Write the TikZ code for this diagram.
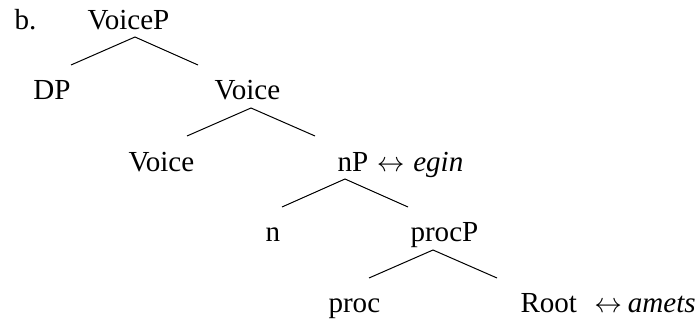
\documentclass[tikz,border=0pt]{standalone}
\usepackage{fontspec}
\setmainfont{Liberation Serif}
\begin{document}
\begin{tikzpicture}[x=0.75pt,y=-0.75pt,line width=0.75pt,
		lbl/.style={anchor=base west, inner sep=0pt, font=\fontsize{21.8}{26}\selectfont}]
		\useasboundingbox (0,0) rectangle (695,320);
		\node (ex) [lbl] at (14,30) {b.};
		\node (vp) [lbl] at (87,30) {VoiceP};
		\node (dp) [lbl] at (33,100) {DP};
		\node (vbar) [lbl] at (214,100) {Voice};
		\node (v) [lbl] at (128,172) {Voice};
		\node (np) [lbl] at (337,172) {nP\hspace{0.3em}$\leftrightarrow$\hspace{0.3em}\textit{egin}};
		\node (n) [lbl] at (265,242) {n};
		\node (procp) [lbl] at (410,242) {procP};
		\node (proc) [lbl] at (328,312) {proc};
		\node (root) [lbl] at (520,312) {Root\hspace{0.6em}$\leftrightarrow$\hspace{0.2em}\textit{amets}};
		
		\coordinate (vpTop) at (135,37);   \coordinate (vpL) at (71,65);   \coordinate (vpR) at (198,65);
		\coordinate (vbarTop) at (251,108); \coordinate (vbarL) at (187,136); \coordinate (vbarR) at (315,136);
		\coordinate (npTop) at (345,179);  \coordinate (npL) at (282,207);  \coordinate (npR) at (408,207);
		\coordinate (procpTop) at (433,250); \coordinate (procpL) at (369,278); \coordinate (procpR) at (497,278);
		
		\draw (vpL)--(vpTop)--(vpR);
		\draw (vbarL)--(vbarTop)--(vbarR);
		\draw (npL)--(npTop)--(npR);
		\draw (procpL)--(procpTop)--(procpR);
	\end{tikzpicture}
\end{document}
